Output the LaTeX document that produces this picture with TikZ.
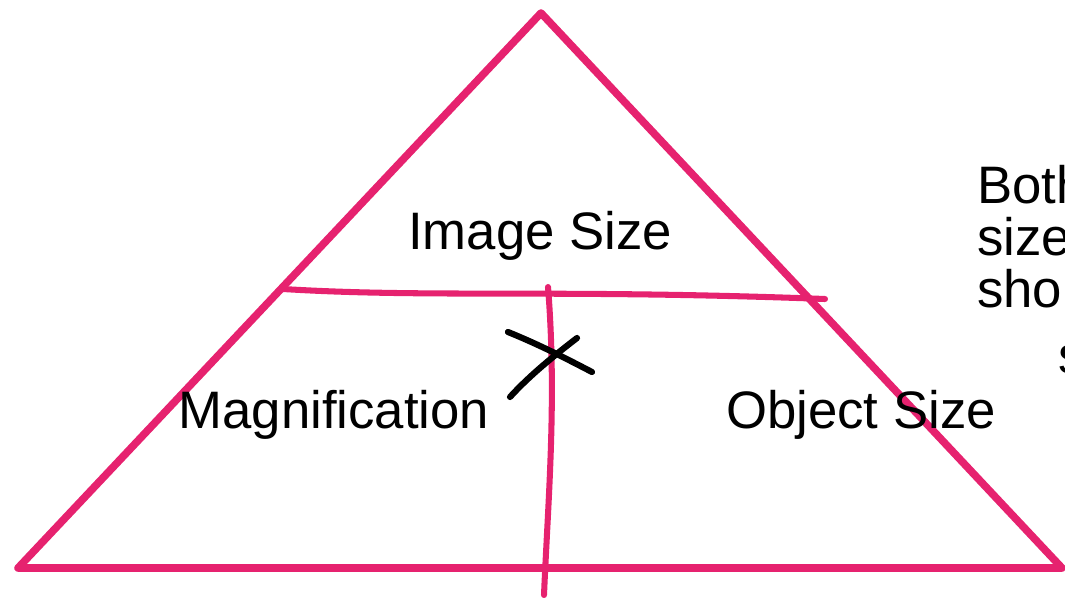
\documentclass[tikz,border=0pt]{standalone}
\usepackage{fontspec}
\setmainfont{Liberation Sans}
\usepackage{xcolor}
\usetikzlibrary{positioning}
\definecolor{pyrpink}{HTML}{E6226F}

\begin{document}
\begin{tikzpicture}[x=0.025cm, y=-0.025cm,
  edge/.style={pyrpink, line width=5.4pt, line join=round, line cap=round},
  split/.style={pyrpink, line width=4.3pt, line cap=round},
  cross/.style={black, line width=4.4pt, line cap=round},
  word/.style={font=\fontsize{37.5}{45}\selectfont, anchor=base, inner sep=0pt}]
\useasboundingbox (0,0) rectangle (1065,598);
% triangle
\coordinate (apex) at (541,13);
\coordinate (left) at (18,568);
\coordinate (right) at (1062,568);
\draw[edge] (apex) -- (left) -- (right) -- cycle;
% dividing lines
\coordinate (hl) at (283,289);
\coordinate (hr) at (825,299);
\draw[split] (hl) .. controls (430,298) and (560,289) .. (hr);
\coordinate (vt) at (548,287);
\coordinate (vb) at (544,595);
\draw[split] (vt) .. controls (557,400) and (548,500) .. (vb);
% the times sign
\coordinate (xa) at (508,332);
\coordinate (xb) at (592,372);
\coordinate (xc) at (510,397);
\coordinate (xd) at (577,338);
\draw[cross] (xa) .. controls (540,345) and (565,358) .. (xb);
\draw[cross] (xc) .. controls (530,375) and (555,355) .. (xd);
% labels
\node[word] (image) at (540,249) {Image Size};
\node[word] (magn) at (334,428) {Magnification};
\node[word] (object) at (861,428) {Object Size};
\node[word, anchor=base west] (note1) at (977,203) {Both};
\node[word, anchor=base west] (note2) at (977,255) {size};
\node[word, anchor=base west] (note3) at (977,307) {shou};
\node[word, anchor=base west] (note4) at (1058,373) {s};
\end{tikzpicture}
\end{document}
